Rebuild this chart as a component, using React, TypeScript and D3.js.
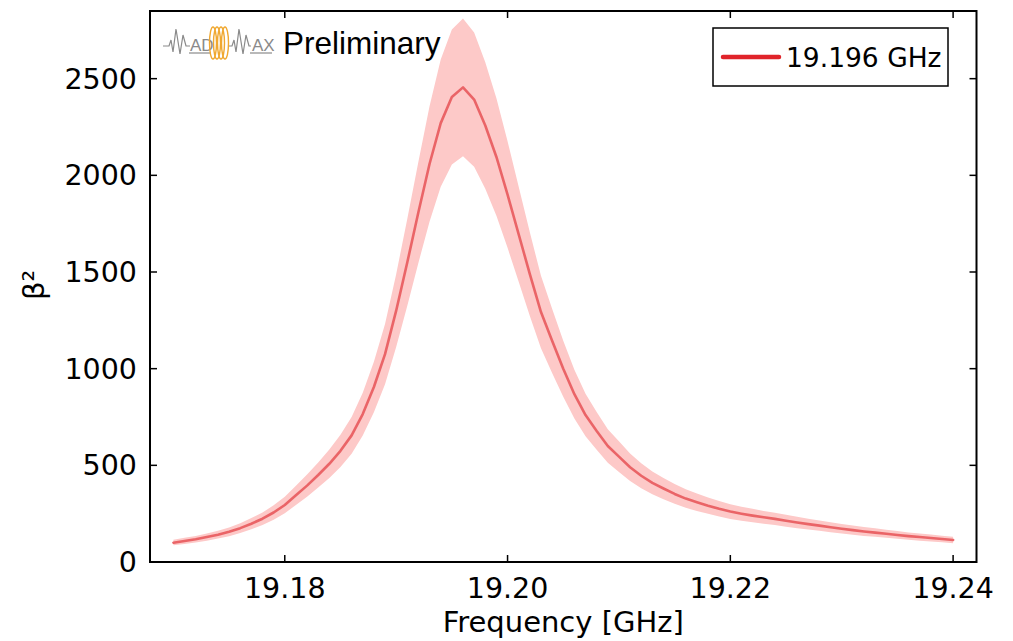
import React from "react";
import * as d3 from "d3";

const freqs: number[] = [
  19.170, 19.171, 19.172, 19.173, 19.174, 19.175, 19.176, 19.177, 19.178, 19.179,
  19.180, 19.181, 19.182, 19.183, 19.184, 19.185, 19.186, 19.187, 19.188, 19.189,
  19.190, 19.191, 19.192, 19.193, 19.194, 19.195, 19.196, 19.197, 19.198, 19.199,
  19.200, 19.201, 19.202, 19.203, 19.204, 19.205, 19.206, 19.207, 19.208, 19.209,
  19.210, 19.211, 19.212, 19.213, 19.214, 19.215, 19.216, 19.217, 19.218, 19.219,
  19.220, 19.221, 19.222, 19.223, 19.224, 19.225, 19.226, 19.227, 19.228, 19.229,
  19.230, 19.231, 19.232, 19.233, 19.234, 19.235, 19.236, 19.237, 19.238, 19.239,
  19.240,
];

const beta2: number[] = [
  100, 109, 118, 129, 141, 156, 175, 198, 224, 256,
  295, 345, 395, 450, 508, 575, 655, 765, 905, 1075,
  1300, 1550, 1810, 2060, 2270, 2405, 2455, 2392, 2258, 2095,
  1900, 1695, 1489, 1293, 1144, 1000, 868, 760, 678, 600,
  545, 490, 446, 409, 380, 352, 328, 309, 291, 275,
  261, 250, 240, 231, 223, 213, 204, 196, 188, 180,
  172, 165, 158, 152, 146, 140, 134, 129, 124, 119,
  114,
];

const lower: number[] = [
  86, 93, 101, 110, 121, 133, 150, 169, 192, 219,
  252, 295, 338, 385, 434, 492, 560, 654, 774, 919,
  1112, 1325, 1548, 1761, 1941, 2056, 2099, 2045, 1931, 1791,
  1625, 1449, 1273, 1106, 978, 855, 742, 650, 580, 513,
  466, 419, 381, 350, 325, 301, 280, 264, 249, 235,
  223, 214, 205, 198, 191, 182, 174, 168, 161, 154,
  147, 141, 135, 130, 125, 120, 115, 110, 106, 102,
  97,
];

const upper: number[] = [
  115, 125, 135, 148, 161, 179, 200, 227, 256, 293,
  338, 395, 452, 515, 582, 658, 750, 876, 1036, 1231,
  1489, 1775, 2072, 2359, 2599, 2754, 2811, 2739, 2585, 2399,
  2176, 1941, 1705, 1480, 1310, 1145, 994, 870, 776, 687,
  624, 561, 511, 468, 435, 403, 376, 354, 333, 315,
  299, 286, 275, 264, 255, 244, 234, 224, 215, 206,
  197, 189, 181, 174, 167, 160, 153, 148, 142, 136,
  131,
];

const xTicks: number[] = [19.18, 19.2, 19.22, 19.24];
const yTicks: number[] = [0, 500, 1000, 1500, 2000, 2500];
const legendLabel = "19.196 GHz";
const xTitle = "Frequency [GHz]";
const yTitle = "β²";

export default function App() {
  const W = 1013, H = 641;
  const left = 150, right = 976.5, top = 11, bottom = 562;
  const x = d3.scaleLinear().domain([19.1679, 19.2421]).range([left, right]);
  const y = d3.scaleLinear().domain([0, 2850]).range([bottom, top]);

  const idx = freqs.map((_, i) => i);
  const area = d3.area<number>()
    .x((i) => x(freqs[i]))
    .y0((i) => y(lower[i]))
    .y1((i) => y(upper[i]));
  const line = d3.line<number>()
    .x((i) => x(freqs[i]))
    .y((i) => y(beta2[i]));

  const font = "DejaVu Sans, sans-serif";
  const sans = "Liberation Sans, Arial, sans-serif";
  const tickLen = 7;

  return (
    <svg width={W} height={H} style={{ position: "absolute", left: 0, top: 0, background: "#fff" }}>
      <rect x={0} y={0} width={W} height={H} fill="#fff" />
      <defs>
        <clipPath id="plotclip">
          <rect x={left} y={top} width={right - left} height={bottom - top} />
        </clipPath>
      </defs>
      <g clipPath="url(#plotclip)">
        <path d={area(idx) || ""} fill="#fdc9c8" stroke="none" />
        <path d={line(idx) || ""} fill="none" stroke="#e8595c" strokeWidth={2.6} strokeLinejoin="round" strokeLinecap="round" opacity={0.9} />
      </g>

      {/* frame */}
      <rect x={left} y={top} width={right - left} height={bottom - top} fill="none" stroke="#000" strokeWidth={2} />

      {/* ticks */}
      {xTicks.map((t) => (
        <g key={"xt" + t}>
          <line x1={x(t)} x2={x(t)} y1={bottom} y2={bottom - tickLen} stroke="#000" strokeWidth={1.5} />
          <line x1={x(t)} x2={x(t)} y1={top} y2={top + tickLen} stroke="#000" strokeWidth={1.5} />
          <text x={x(t)} y={598} textAnchor="middle" fontFamily={font} fontSize={28.5} fill="#000">
            {d3.format(".2f")(t)}
          </text>
        </g>
      ))}
      {yTicks.map((t) => (
        <g key={"yt" + t}>
          <line x1={left} x2={left + tickLen} y1={y(t)} y2={y(t)} stroke="#000" strokeWidth={1.5} />
          <line x1={right} x2={right - tickLen} y1={y(t)} y2={y(t)} stroke="#000" strokeWidth={1.5} />
          <text x={137} y={y(t) + 10} textAnchor="end" fontFamily={font} fontSize={28.5} fill="#000">
            {t}
          </text>
        </g>
      ))}

      {/* axis titles */}
      <text x={(left + right) / 2} y={632} textAnchor="middle" fontFamily={font} fontSize={29} fill="#000">
        {xTitle}
      </text>
      <text transform={`translate(44, 285) rotate(-90)`} textAnchor="middle" fontFamily={font} fontSize={29} fill="#000">
        {yTitle}
      </text>

      {/* legend */}
      <rect x={713} y={28} width={235} height={58} fill="#fff" stroke="#000" strokeWidth={1.5} />
      <line x1={723} x2={779} y1={57} y2={57} stroke="#e0242a" strokeWidth={4.5} strokeLinecap="round" />
      <text x={786} y={67} fontFamily={font} fontSize={26.5} fill="#000">{legendLabel}</text>

      {/* MADMAX logo */}
      <g fill="none" stroke="#8a8a8a" strokeWidth={1.2}>
        <path d="M163,46 L169,46 L171,40 L173,52 L176,29 L180,54 L183,35 L186,46 L190,46" />
        <line x1={189} x2={210} y1={53} y2={53} />
        <path d="M229,46 L232,46 L234,40 L236,52 L239,29 L243,54 L246,35 L249,46 L251,46" />
        <line x1={250} x2={272} y1={53} y2={53} />
      </g>
      <text x={190} y={51} fontFamily={sans} fontSize={17} fill="#8a8a8a">AD</text>
      <text x={252} y={51} fontFamily={sans} fontSize={17} fill="#8a8a8a">AX</text>
      <g fill="none" stroke="#f0a830" strokeWidth={1.4}>
        <ellipse cx={213} cy={43} rx={3.5} ry={16} />
        <ellipse cx={217} cy={43} rx={3.5} ry={16} />
        <ellipse cx={221} cy={43} rx={3.5} ry={16} />
        <ellipse cx={225} cy={43} rx={3.5} ry={16} />
      </g>
      <text x={283} y={54} fontFamily={sans} fontSize={31.5} fill="#000">Preliminary</text>
    </svg>
  );
}
